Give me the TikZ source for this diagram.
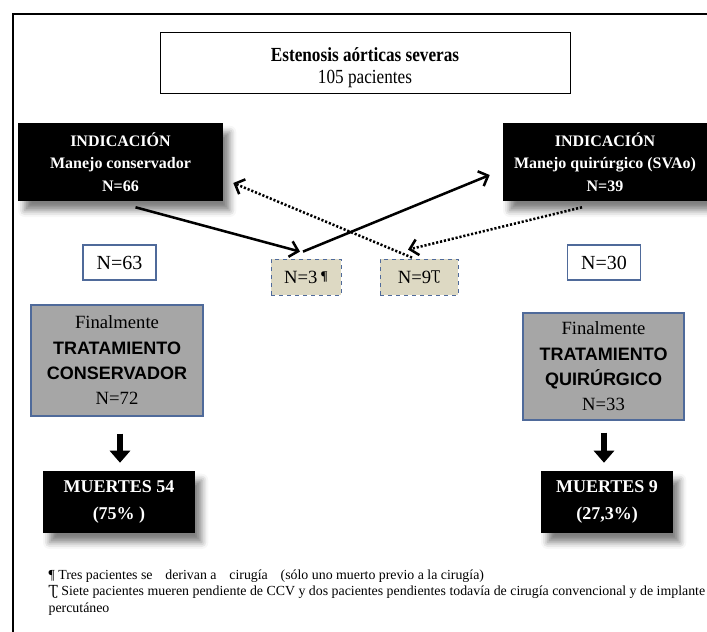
\documentclass[tikz,border=0pt]{standalone}
\usepackage{fontspec}
\setmainfont{Liberation Serif}
\setsansfont{Liberation Sans}
\newfontfamily\hookfont{DejaVu Serif}
\newfontfamily\narrowserif[FakeStretch=0.86]{Liberation Serif}
\usepackage{tikz}
\usetikzlibrary{calc}
\usetikzlibrary{arrows.meta}
\usetikzlibrary{shadows.blur}

\definecolor{boxblue}{RGB}{79,106,154}
\definecolor{sandfill}{RGB}{221,217,195}
\definecolor{midgray}{RGB}{166,166,166}

\begin{document}
\begin{tikzpicture}[x=0.75pt,y=-0.75pt,every node/.style = {align=center,inner sep=1pt},
blackbox/.style={fill=black,text=white,font=\fontsize{12}{17}\selectfont\bfseries,
  blur shadow={shadow xshift=5pt,shadow yshift=-7pt,shadow blur radius=5pt,shadow opacity=50}},
countbox/.style={draw=boxblue,line width=0.8pt,fill=white,font=\fontsize{15}{17}\selectfont,minimum width=54.75pt,minimum height=26.25pt},
movebox/.style={draw=boxblue,dashed,line width=0.6pt,fill=sandfill,font=\fontsize{14}{16}\selectfont,minimum height=27pt},
finalbox/.style={draw=boxblue,line width=0.8pt,fill=midgray,font=\fontsize{14}{19}\selectfont},
flow/.style={line width=1.9pt,-{Straight Barb[length=6pt,width=12pt]}},
dotflow/.style={flow,dash pattern=on 1.6pt off 1.4pt},
downarrow/.style={line width=5pt,-{Triangle[length=9pt,width=15pt]}}]
\useasboundingbox (0,0) rectangle (707,632);
\draw[line width=1.4pt] (13,632) -- (13,14) -- (707,14);
\node[draw,line width=0.6pt,minimum width=307.5pt,minimum height=45.75pt,font=\narrowserif\fontsize{15}{17}\selectfont] (top) at (365,62.5) {\rule{0pt}{18pt}\textbf{Estenosis aórticas severas}\\105 pacientes};
\node[blackbox,minimum width=153.75pt,minimum height=58.5pt] (ind1) at (120.5,162) {INDICACIÓN\\Manejo conservador\\N=66};
\node[blackbox,minimum width=153pt,minimum height=58.5pt] (ind2) at (605,162) {INDICACIÓN\\Manejo quirúrgico (SVAo)\\N=39};
\node[countbox] (n63) at (119.5,262.5) {N=63};
\node[countbox] (n30) at (604,262.5) {N=30};
\node[movebox,minimum width=52.5pt] (n3) at (306,277) {N=3\,\raisebox{2pt}{\fontsize{10}{10}\selectfont\bfseries ¶}};
\node[movebox,minimum width=58.5pt] (n9) at (419,277) {N=9\raisebox{2pt}{\fontsize{10}{10}\hookfont Ʈ}};
\node[finalbox,minimum width=129pt,minimum height=83.25pt] (fin1) at (117,360.5) {Finalmente\\{\sffamily\bfseries\fontsize{13.5}{19}\selectfont TRATAMIENTO}\\{\sffamily\bfseries\fontsize{13.5}{19}\selectfont CONSERVADOR}\\N=72};
\node[finalbox,minimum width=120.75pt,minimum height=80.25pt] (fin2) at (603.5,366.5) {Finalmente\\{\sffamily\bfseries\fontsize{13.5}{19}\selectfont TRATAMIENTO}\\{\sffamily\bfseries\fontsize{13.5}{19}\selectfont QUIRÚRGICO}\\N=33};
\node[blackbox,font=\fontsize{13.5}{20}\selectfont\bfseries,minimum width=114pt,minimum height=46.5pt] (m1) at (119,502) {MUERTES 54\\(75\% )};
\node[blackbox,font=\fontsize{13.5}{20}\selectfont\bfseries,minimum width=99pt,minimum height=46.5pt] (m2) at (607,502) {MUERTES 9\\(27,3\%)};
\draw[flow] ($(ind1.south)+(15,6)$) to ($(n3.north)+(-6,-7)$);
\draw[flow] ($(n3.north)+(-3,-7)$) to ($(ind2.west)+(-13,13)$);
\draw[dotflow] ($(n9.north)+(-7,-1)$) to ($(ind1.east)+(10,21)$);
\draw[dotflow] ($(ind2.south)+(-23,6)$) to ($(n9.north)+(-11,-9)$);
\draw[downarrow] ($(fin1.south)+(3,17)$) -- ($(m1.north)+(1,-8)$);
\draw[downarrow] ($(fin2.south)+(0.5,12)$) -- ($(m2.north)+(-3,-8)$);
\node[anchor=north west,align=left,font=\fontsize{10.4}{12.4}\selectfont] (notes) at (47,568) {¶ Tres pacientes se\ \hspace*{7pt}derivan a\ \hspace*{7pt}cirugía\ \hspace*{7pt}(sólo uno muerto previo a la cirugía)\\{\hookfont Ʈ} Siete pacientes mueren pendiente de CCV y dos pacientes pendientes todavía de cirugía convencional y de implante\\percutáneo};
\end{tikzpicture}
\end{document}
